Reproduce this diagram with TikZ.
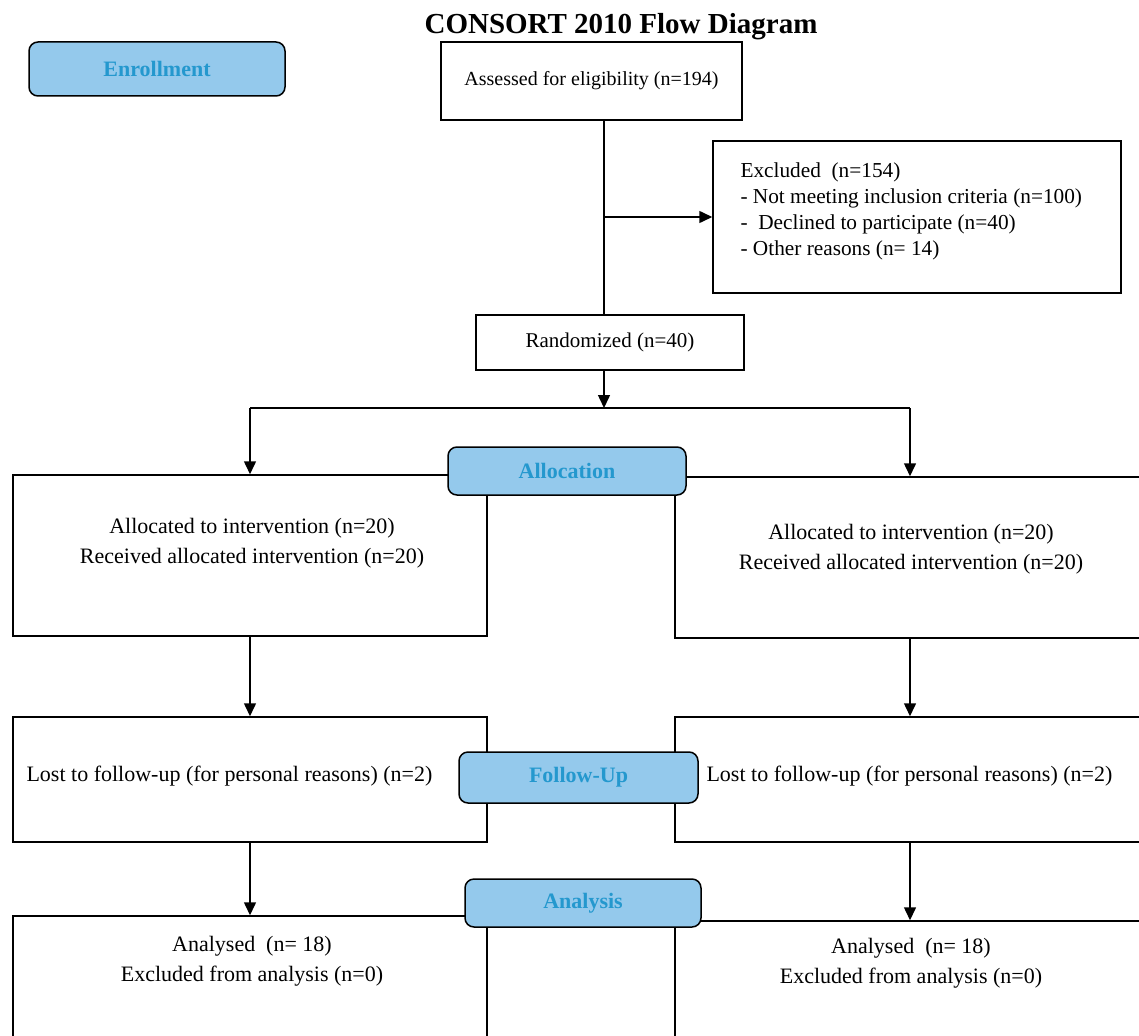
\documentclass[tikz,border=0pt]{standalone}
\usepackage{fontspec}
\setmainfont{Liberation Serif}
\usetikzlibrary{arrows.meta}
\definecolor{labfill}{RGB}{148,201,236}
\definecolor{labtext}{RGB}{36,152,206}
\begin{document}
\begin{tikzpicture}[x=1pt,y=-1pt,
    box/.style={draw, line width=1.5pt, inner sep=0pt},
    stage/.style={draw, line width=1.5pt, rounded corners=9pt, fill=labfill, text=labtext,
      font=\bfseries\fontsize{22}{26}\selectfont},
    txt/.style={font=\fontsize{22}{30}\selectfont, align=center},
    link/.style={line width=1.5pt},
    flow/.style={line width=1.5pt, -{Triangle[length=13pt,width=12pt]}}]
        \clip (0,0) rectangle (1139,1035);
        \node[font=\bfseries\fontsize{29}{34}\selectfont] (title) at (621,27) {CONSORT 2010 Flow Diagram};

        % enrollment
        \node[box, txt, font=\fontsize{20}{24}\selectfont, minimum width=301pt, minimum height=78pt] (assess) at (591.5,81) {Assessed for eligibility (n=194)};
        \node[box, minimum width=408pt, minimum height=152pt] (excl) at (917,217) {};
        \node[anchor=north west, align=left, font=\fontsize{21.3}{26}\selectfont] (exclt) at (737,159)
            {Excluded\ \ (n=154)\\- Not meeting inclusion criteria (n=100)\\-\ \ Declined to participate (n=40)\\- Other reasons (n= 14)};
        \node[box, txt, font=\fontsize{21}{25}\selectfont, minimum width=268pt, minimum height=55pt] (random) at (610,342.5) {Randomized (n=40)};

        % allocation
        \node[box, minimum width=474pt, minimum height=161pt] (allocL) at (250,555.5) {};
        \node[txt] (allocLt) at (252,543) {Allocated to intervention (n=20)\\Received allocated intervention (n=20)};
        \node[box, minimum width=470pt, minimum height=161pt] (allocR) at (910,557.5) {};
        \node[txt] (allocRt) at (911,549) {Allocated to intervention (n=20)\\Received allocated intervention (n=20)};

        % follow-up
        \node[box, minimum width=474pt, minimum height=125pt] (lostL) at (250,779.5) {};
        \node[txt, anchor=west] (lostLt) at (23,776) {Lost to follow-up (for personal reasons) (n=2)};
        \node[box, minimum width=470pt, minimum height=125pt] (lostR) at (910,779.5) {};
        \node[txt, anchor=west] (lostRt) at (703,776) {Lost to follow-up (for personal reasons) (n=2)};

        % analysis
        \node[box, minimum width=474pt, minimum height=140pt] (anaL) at (250,986) {};
        \node[txt] (anaLt) at (252,961) {Analysed\ \ (n= 18)\\Excluded from analysis (n=0)};
        \node[box, minimum width=470pt, minimum height=140pt] (anaR) at (910,991) {};
        \node[txt] (anaRt) at (911,963) {Analysed\ \ (n= 18)\\Excluded from analysis (n=0)};

        \coordinate (split) at (604,217);
        \coordinate (forkM) at (604,408);
        \coordinate (forkL) at (250,408);
        \coordinate (forkR) at (910,408);
        \path[draw,link] (assess.south -| split) -- (random.north -| split);
        \path[draw,flow] (split) -- (excl.west);
        \path[draw,flow] (random.south -| forkM) -- (forkM);
        \path[draw,link] (forkL) -- (forkR);
        \path[draw,flow] (forkL) -- (allocL.north);
        \path[draw,flow] (forkR) -- (allocR.north);
        \path[draw,flow] (allocL.south) -- (lostL.north);
        \path[draw,flow] (allocR.south) -- (lostR.north);
        \path[draw,flow] (lostL.south) -- (anaL.north);
        \path[draw,flow] (lostR.south) -- (anaR.north);

        % stage labels
        \node[stage, minimum width=256pt, minimum height=54pt] (enroll) at (157,69) {Enrollment};
        \node[stage, minimum width=238pt, minimum height=48pt] (alloc) at (567,471) {Allocation};
        \node[stage, minimum width=239pt, minimum height=51pt] (follow) at (578.5,777.5) {Follow-Up};
        \node[stage, minimum width=236pt, minimum height=48pt] (analysis) at (583,903) {Analysis};
    \end{tikzpicture}
\end{document}
